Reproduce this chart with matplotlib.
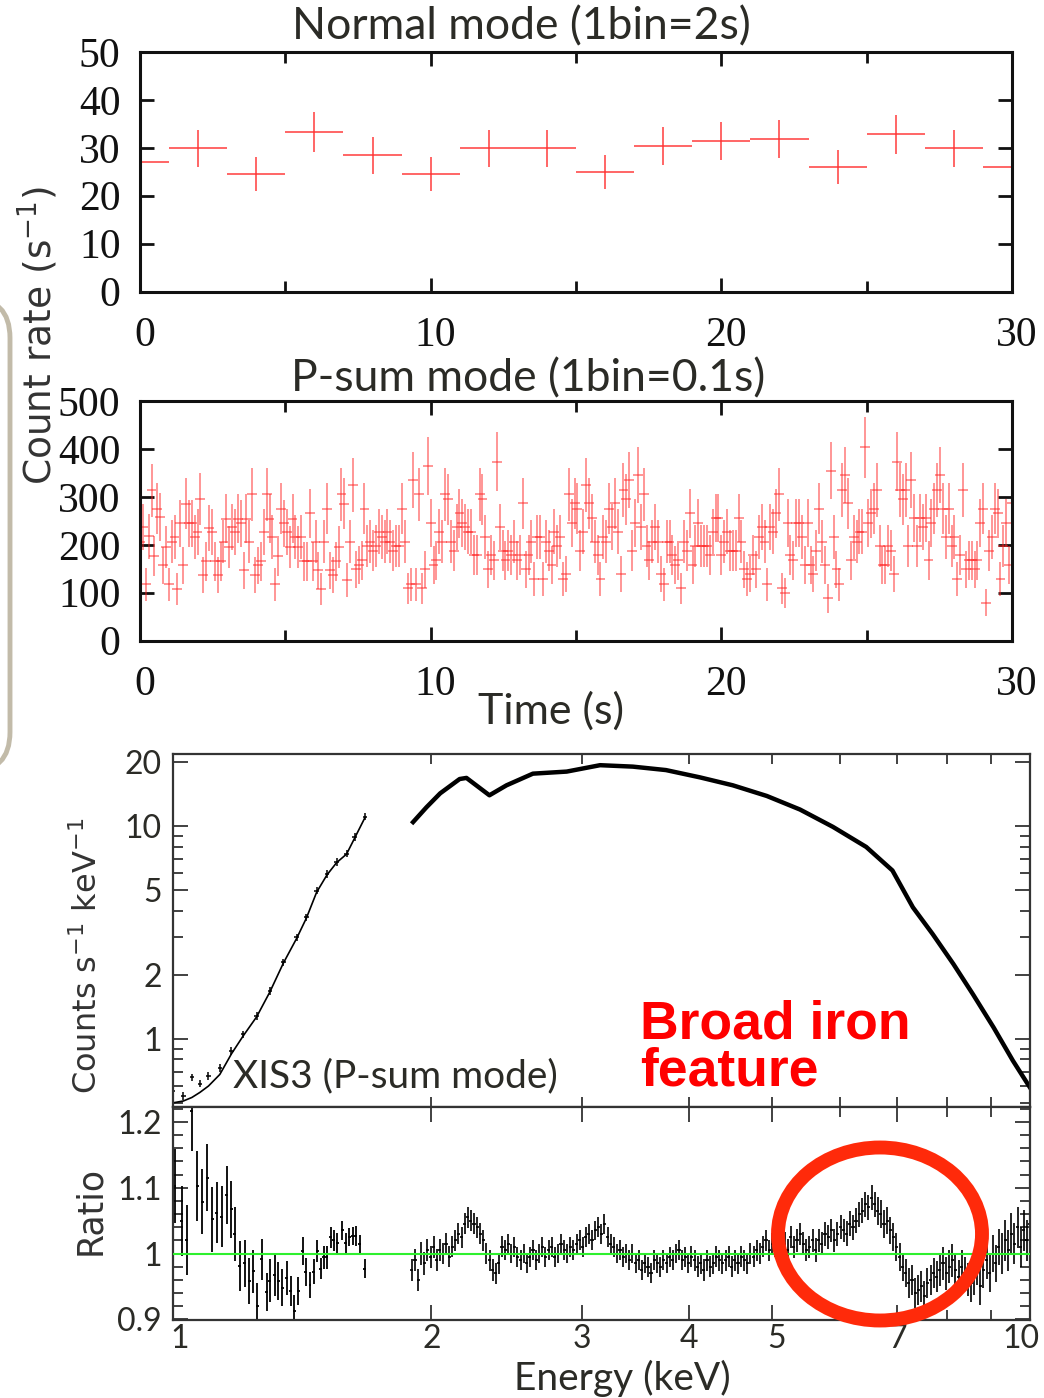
import numpy as np
import matplotlib
matplotlib.use('Agg')
import matplotlib.pyplot as plt
from matplotlib.patches import Ellipse, FancyBboxPatch
from matplotlib.ticker import FixedLocator, FixedFormatter, NullFormatter, MultipleLocator
from matplotlib.transforms import ScaledTranslation

plt.rcParams['mathtext.default'] = 'regular'

# ------------------------------------------------------------------ data
normal_time = [0, 2, 4, 6, 8, 10, 12, 14, 16, 18, 20, 22, 24, 26, 28, 30]
normal_rate = [27.0, 29.9, 24.5, 33.3, 28.4, 24.5, 29.9, 29.9, 24.9, 30.4,
               31.4, 31.9, 26.0, 32.8, 29.9, 26.0]
normal_bin = 2.0

psum_rate = [
    207, 237, 118, 218, 314, 176, 276, 258, 157, 196, 118, 207, 216, 108, 245,
    157, 286, 245, 245, 216, 227, 296, 137, 166, 235, 227, 166, 137, 166, 207,
    255, 196, 237, 227, 255, 245, 147, 255, 207, 306, 137, 157, 166, 227, 306,
    255, 216, 118, 176, 276, 245, 227, 196, 255, 216, 196, 216, 166, 166, 266,
    166, 207, 147, 108, 207, 276, 147, 137, 166, 196, 306, 286, 127, 207,
    325, 149, 158, 168, 276, 198, 207, 188, 198, 228, 217, 207, 228, 207, 188,
    198, 198, 276, 207, 109, 118, 336, 118, 306, 109, 149, 365, 246, 158, 168,
    228, 207, 306, 295, 207, 188, 237, 266, 246, 237, 228, 228, 179, 179, 306,
    295, 217, 149, 179, 168, 374, 237, 188, 168, 188, 179, 207, 168, 179, 287,
    149, 179, 207, 128, 217, 217, 128, 207, 188, 158, 228, 198, 217, 128, 139,
    306, 246, 287, 276, 188,
    228, 325, 287, 256, 207, 179, 128, 217, 207, 276, 237, 287, 228, 139, 315,
    295, 336, 188, 246, 346, 237, 306, 198, 168, 207, 237, 207, 139, 118, 207,
    207, 179, 158, 168, 109, 207, 188, 266, 158, 198, 246, 198, 198, 198, 179,
    228, 256, 256, 179, 207, 228, 188, 188, 188, 256, 207, 149, 128, 139, 179,
    149, 217, 237, 207, 118, 237, 228, 266, 306, 109, 99, 246, 179,
    168, 246, 246, 217, 158, 246, 158, 139, 188, 276, 207, 158, 88, 355, 217,
    149, 118, 315, 346, 287, 168, 217, 207, 228, 228, 404, 246, 266, 276, 315,
    198, 158, 158, 198, 188, 139, 374, 315, 295, 315, 198, 336, 256, 198, 256,
    237, 256, 168, 246, 276, 315, 346, 276, 217, 276, 198, 217, 128, 179, 315,
    149, 168, 168, 149, 168, 246, 276, 79, 188, 217, 276, 266, 128, 198, 246,
    158, 287]
psum_bin = 0.1
psum_span = 30.0

# spectrum, low-energy part (data and model)
spec_lo_E = [1.0, 1.028, 1.052, 1.075, 1.10, 1.134, 1.17, 1.207, 1.252, 1.297,
             1.345, 1.394, 1.431, 1.471, 1.512, 1.552, 1.594, 1.629, 1.675]
spec_lo_data = [0.568, 0.54, 0.66, 0.616, 0.67, 0.73, 0.878, 1.05, 1.28, 1.68,
                2.29, 3.0, 3.74, 4.99, 5.98, 6.8, 7.44, 8.9, 11.1]
spec_lo_model = [0.50, 0.51, 0.53, 0.56, 0.60, 0.68, 0.85, 1.03, 1.27, 1.66,
                 2.27, 2.97, 3.70, 4.90, 5.90, 6.75, 7.40, 8.8, 11.0]
# spectrum, high-energy part
spec_hi_E = [1.906, 1.976, 2.05, 2.16, 2.20, 2.34, 2.45, 2.63, 2.88, 3.15, 3.44,
             3.76, 4.12, 4.50, 4.93, 5.39, 5.89, 6.44, 6.91, 7.30, 7.70, 8.14,
             8.58, 9.07, 9.55, 10.0]
spec_hi_val = [10.47, 12.3, 14.3, 16.7, 16.9, 14.0, 15.6, 17.7, 18.1, 19.4, 19.1,
               18.4, 17.0, 15.6, 13.9, 12.0, 9.94, 8.0, 6.2, 4.16, 3.11, 2.25,
               1.62, 1.13, 0.79, 0.59]

# ratio, low-energy part
ratio_lo_E = [1.005, 1.024, 1.037, 1.052, 1.067, 1.082, 1.096, 1.111, 1.125, 1.140,
              1.155, 1.169, 1.181, 1.197, 1.213, 1.227, 1.241, 1.254, 1.269, 1.286,
              1.297, 1.315, 1.327, 1.342, 1.357, 1.372, 1.385, 1.400, 1.417, 1.429,
              1.445, 1.460, 1.474, 1.488, 1.500, 1.512, 1.527, 1.541, 1.555, 1.576,
              1.590, 1.605, 1.620, 1.635, 1.652, 1.675]
ratio_lo = [1.103, 1.049, 1.020, 1.216, 1.102, 1.079, 1.115, 1.052, 1.062, 1.056,
            1.089, 1.067, 1.029, 0.981, 0.985, 0.958, 0.973, 0.920, 0.991, 0.941,
            0.959, 0.967, 0.958, 0.948, 0.963, 0.943, 0.912, 0.943, 1.004, 0.972,
            0.952, 0.972, 1.004, 0.977, 0.994, 0.994, 1.025, 1.020, 1.016, 1.035,
            1.016, 1.025, 1.027, 1.027, 1.014, 0.977]
ratio_lo_err = [0.056, 0.053, 0.053, 0.060, 0.053, 0.050, 0.051, 0.049, 0.046, 0.046,
                0.044, 0.043, 0.041, 0.038, 0.036, 0.035, 0.033, 0.035, 0.031, 0.029,
                0.033, 0.031, 0.029, 0.028, 0.026, 0.023, 0.025, 0.021, 0.021, 0.021,
                0.020, 0.019, 0.017, 0.016, 0.018, 0.018, 0.016, 0.016, 0.015, 0.015,
                0.015, 0.014, 0.014, 0.015, 0.014, 0.014]

# ratio, high-energy part (1.9 - 10 keV, log-spaced bins)
ratio_hi_range = (1.90, 10.0)
ratio_hi = [
    0.975, 0.99, 0.96, 1.0, 0.985, 1.005, 0.995, 1.01, 0.99, 1.005,
    1.0, 1.015, 0.995, 1.01, 1.02, 1.03, 1.025, 1.045, 1.055, 1.05,
    1.045, 1.04, 1.03, 1.02, 1.0, 0.99, 0.975, 0.97, 0.985, 1.01,
    1.005, 1.015, 1.0, 1.01, 0.995, 0.99, 1.0, 0.985, 0.995, 1.005,
    0.99, 1.0, 1.01, 0.995, 1.005, 1.01, 0.995, 1.0, 1.015, 1.005,
    1.0, 1.01, 1.005, 1.015, 1.02, 1.01, 1.025, 1.03, 1.02, 1.035,
    1.04, 1.03, 1.045, 1.025, 1.015, 1.01, 1.0, 1.005, 0.995, 1.0,
    0.99, 1.0, 0.985, 0.99, 0.975, 0.985, 0.98, 0.97, 0.99, 0.985,
    0.98, 0.99, 0.985, 0.995, 0.99, 1.0, 1.005, 0.99, 0.995, 0.985,
    0.995, 0.99, 0.98, 0.985, 0.975, 0.99, 0.98, 0.985, 0.995, 0.99,
    0.985, 0.99, 0.995, 0.98, 0.99, 0.985, 0.995, 0.99, 0.985, 1.0,
    0.995, 1.005, 1.0, 1.01, 1.02, 1.005, 1.015, 1.01, 1.02, 1.01,
    1.015, 1.005, 1.025, 1.01, 1.02, 1.03, 1.015, 1.005, 1.01, 1.02,
    1.005, 1.02, 1.015, 1.03, 1.025, 1.035, 1.02, 1.03, 1.04, 1.035,
    1.03, 1.045, 1.04, 1.05, 1.06, 1.065, 1.075, 1.07, 1.085, 1.075,
    1.065, 1.06, 1.045, 1.05, 1.035, 1.025, 1.01, 0.995, 0.98, 0.97,
    0.955, 0.96, 0.94, 0.945, 0.95, 0.935, 0.955, 0.96, 0.97, 0.965,
    0.975, 0.985, 0.97, 0.98, 0.99, 0.975, 0.965, 0.98, 0.97, 0.96,
    0.955, 0.965, 0.98, 0.95, 0.975, 0.99, 0.97, 1.0, 0.985, 1.01,
    1.0, 1.02, 1.005, 1.03, 1.015, 1.04, 1.01, 1.035, 1.02, 1.045]
ratio_hi_err_group = [0.017, 0.016, 0.016, 0.015, 0.015, 0.015, 0.015, 0.015, 0.015, 0.016,
                      0.016, 0.016, 0.017, 0.018, 0.019, 0.021, 0.023, 0.025, 0.028, 0.031]

# ------------------------------------------------------------------ figure
W, H = 1044, 1398
fig = plt.figure(figsize=(W / 100, H / 100), dpi=100)


def rect(x0, y0, x1, y1):
    return [x0 / W, 1 - y1 / H, (x1 - x0) / W, (y1 - y0) / H]


def shift_labels(labels, offsets_px):
    for lbl, dx in zip(labels, offsets_px):
        if dx:
            lbl.set_transform(lbl.get_transform() +
                              ScaledTranslation(dx / 100, 0, fig.dpi_scale_trans))


# background decoration (slide frame at the left)
bg = fig.add_axes([0, 0, 1, 1], zorder=-5)
bg.set_xlim(0, W)
bg.set_ylim(H, 0)
bg.axis('off')
bg.add_patch(FancyBboxPatch((-80, 298), 90, 474,
                            boxstyle='round,pad=0,rounding_size=40',
                            fc='white', ec='#c2bba9', lw=3.5))

serif = 'Liberation Serif'
calib = 'Lato'
dark = '#2b2b26'

# ---- panel 1 : normal mode
ax1 = fig.add_axes(rect(140, 52, 1012, 291.5))
nr = np.array(normal_rate)
ax1.errorbar(normal_time, nr, xerr=normal_bin / 2,
             yerr=np.sqrt(nr * normal_bin) / normal_bin,
             fmt='none', ecolor='#ff3030', elinewidth=1.3, alpha=0.8)
ax1.set_xlim(0, 30)
ax1.set_ylim(0, 50)

# ---- panel 2 : P-sum mode
ax2 = fig.add_axes(rect(140, 401.5, 1012, 640.5))
pr = np.array(psum_rate, dtype=float)
pt = np.linspace(0, psum_span, len(pr))
ax2.errorbar(pt, pr, xerr=0.17, yerr=np.sqrt(pr * psum_bin) / psum_bin,
             fmt='none', ecolor='#ff2020', elinewidth=1.2, alpha=0.55)
ax2.set_xlim(0, 30)
ax2.set_ylim(0, 500)

for ax, ymaj in ((ax1, 10), (ax2, 100)):
    for s in ax.spines.values():
        s.set_linewidth(2.2)
        s.set_color('#111')
    ax.xaxis.set_major_locator(FixedLocator([0, 10, 20, 30]))
    ax.xaxis.set_minor_locator(FixedLocator([5, 15, 25]))
    ax.yaxis.set_major_locator(MultipleLocator(ymaj))
    ax.tick_params(which='both', direction='in', top=True, right=True,
                   width=2.0, color='#111')
    ax.tick_params(which='major', length=10, labelsize=30,
                   labelfontfamily=serif, labelcolor='#111')
    ax.tick_params(which='minor', length=8)
    ax.tick_params(axis='x', which='major', pad=18)
    ax.tick_params(axis='y', which='major', pad=14)

fig.text(521 / W, 1 - 27 / H, 'Normal mode (1bin=2s)', ha='center', va='center',
         fontsize=32, family=calib, color=dark)
fig.text(528 / W, 1 - 379 / H, 'P-sum mode (1bin=0.1s)', ha='center', va='center',
         fontsize=32, family=calib, color=dark)
fig.text(551 / W, 1 - 711 / H, 'Time (s)', ha='center', va='center',
         fontsize=31, family=calib, color=dark)
fig.text(38 / W, 1 - 335 / H, 'Count rate (s$^{-1}$)', rotation=90, ha='center',
         va='center', fontsize=27, family='DejaVu Sans', color='#333')

# ---- panel 3 : spectrum
ax3 = fig.add_axes(rect(173, 754, 1030, 1107))
ax3.set_xscale('log')
ax3.set_yscale('log')
ax3.errorbar(spec_lo_E, spec_lo_data, yerr=np.array(spec_lo_data) * 0.04,
             xerr=np.array(spec_lo_E) * 0.006, fmt='none', ecolor='black',
             elinewidth=1.1)
ax3.plot(spec_lo_E, spec_lo_model, color='black', lw=1.2)
ax3.plot(spec_hi_E, spec_hi_val, color='black', lw=3.2, solid_joinstyle='round')
ax3.set_xlim(1, 10)
ax3.set_ylim(0.478, 21.9)

# ---- panel 4 : ratio
ax4 = fig.add_axes(rect(173, 1107, 1030, 1320))
ax4.set_xscale('log')
rE = np.array(ratio_lo_E)
ax4.errorbar(rE, ratio_lo, yerr=ratio_lo_err, xerr=rE * 0.004, fmt='none',
             ecolor='black', elinewidth=1.3)
rh = np.array(ratio_hi)
eh = np.geomspace(ratio_hi_range[0], ratio_hi_range[1], len(rh))
errh = np.repeat(ratio_hi_err_group, len(rh) // len(ratio_hi_err_group))
ax4.errorbar(eh, rh, yerr=errh, xerr=eh * 0.0042, fmt='none', ecolor='black',
             elinewidth=1.2)
ax4.axhline(1.0, color='#2ef02e', lw=1.5, zorder=4)
ax4.set_xlim(1, 10)
ax4.set_ylim(0.899, 1.2226)

for ax in (ax3, ax4):
    for s in ax.spines.values():
        s.set_linewidth(1.6)
        s.set_color('#333')
    ax.tick_params(which='both', direction='in', top=True, right=True,
                   width=1.3, color='#333')
    ax.tick_params(which='major', length=11, labelsize=23,
                   labelfontfamily=calib, labelcolor=dark)
    ax.tick_params(which='minor', length=7)

ax3.xaxis.set_major_locator(FixedLocator([1, 10]))
ax3.xaxis.set_minor_locator(FixedLocator([2, 3, 4, 5, 6, 7, 8, 9]))
ax3.xaxis.set_major_formatter(NullFormatter())
ax3.xaxis.set_minor_formatter(NullFormatter())
ax3.yaxis.set_major_locator(FixedLocator([1, 2, 5, 10, 20]))
ax3.yaxis.set_major_formatter(FixedFormatter(['1', '2', '5', '10', '20']))
ax3.yaxis.set_minor_locator(FixedLocator([0.5, 0.6, 0.7, 0.8, 0.9, 3, 4, 6, 7, 8, 9]))
ax3.yaxis.set_minor_formatter(NullFormatter())
ax3.tick_params(axis='y', which='major', pad=8)

ax4.xaxis.set_major_locator(FixedLocator([1, 2, 3, 4, 5, 7, 10]))
ax4.xaxis.set_major_formatter(FixedFormatter(['1', '2', '3', '4', '5', '7', '10']))
ax4.xaxis.set_minor_locator(FixedLocator([6, 8, 9]))
ax4.xaxis.set_minor_formatter(NullFormatter())
ax4.yaxis.set_major_locator(FixedLocator([0.9, 1.0, 1.1, 1.2]))
ax4.yaxis.set_major_formatter(FixedFormatter(['0.9', '1', '1.1', '1.2']))
ax4.yaxis.set_minor_locator(MultipleLocator(0.02))
ax4.tick_params(axis='x', which='major', pad=3)
ax4.tick_params(axis='y', which='major', pad=8)

fig.text(88 / W, 1 - 956 / H, 'Counts s$^{-1}$ keV$^{-1}$', rotation=90,
         ha='center', va='center', fontsize=23, family='DejaVu Sans', color='#333')
fig.text(90 / W, 1 - 1210 / H, 'Ratio', rotation=90, ha='center', va='center',
         fontsize=25, family='DejaVu Sans', color='#333')
fig.text(622 / W, 1 - 1378 / H, 'Energy (keV)', ha='center', va='center',
         fontsize=28, family=calib, color=dark)
fig.text(233 / W, 1 - 1076 / H, 'XIS3 (P-sum mode)', ha='left', va='center',
         fontsize=28, family=calib, color=dark)
fig.text(640 / W, 1 - 1048 / H, 'Broad iron\nfeature', ha='left', va='center',
         fontsize=38.5, family='Liberation Sans', weight='bold', color='#ff0000',
         linespacing=0.93)

# foreground decoration : highlight ellipse
fg = fig.add_axes([0, 0, 1, 1], zorder=10)
fg.set_xlim(0, W)
fg.set_ylim(H, 0)
fg.axis('off')
fg.patch.set_alpha(0)
fg.add_patch(Ellipse((880, 1234), 204, 173, fill=False, ec='#ff2a0a', lw=10))

fig.canvas.draw()
shift_labels(ax1.get_xticklabels(), [5, 5, 5, 5])
shift_labels(ax2.get_xticklabels(), [5, 5, 5, 5])
shift_labels(ax4.get_xticklabels(), [7, 1, 0, 0, 5, 0, -9])

fig.savefig('out.png', dpi=100)
